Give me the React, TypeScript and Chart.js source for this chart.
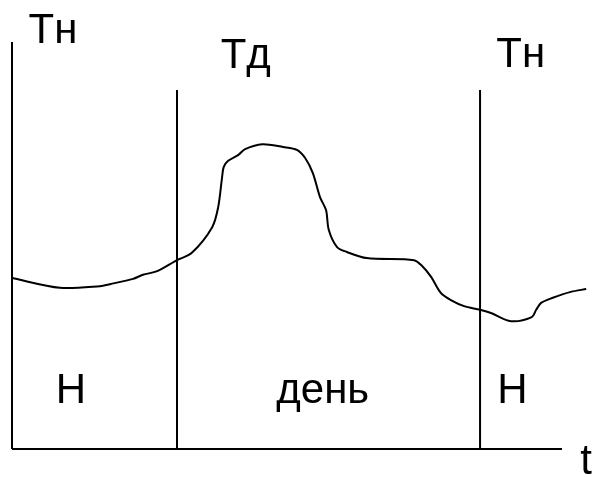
import React, { useEffect, useRef } from "react";
import { Chart, registerables } from "chart.js";

Chart.register(...registerables);

// Temperature curve over time (arbitrary units)
const curveX = [0, 8.7, 16.0, 17.8, 22.0, 23.8, 26.4, 30.0, 32.7, 36.4, 37.5, 38.2, 38.5, 39.3, 41.1, 42.4, 45.5, 49.3, 51.8, 53.3, 54.7, 56.0, 57.1, 57.6, 59.1, 60.9, 64.5, 73.1, 74.4, 76.2, 78.0, 79.8, 82.2, 85.1, 87.1, 90.7, 94.5, 95.3, 96.2, 98.2, 101.6, 104.4];
const curveY = [42.0, 39.6, 40.0, 40.5, 41.8, 42.8, 43.7, 46.4, 48.2, 54.5, 59.5, 66.8, 69.3, 70.8, 72.2, 73.7, 74.9, 74.2, 73.5, 71.5, 67.8, 61.9, 58.7, 53.8, 49.6, 48.4, 46.9, 46.4, 45.2, 42.3, 38.3, 36.6, 35.1, 34.2, 33.4, 31.4, 32.4, 34.2, 35.9, 37.1, 38.6, 39.3];

// Period boundaries
const dayStart = 30;
const dayEnd = 85.1;
const boundaryTop = 88.2;
const axisXEnd = 100;
const axisYEnd = 100;

// Text labels
const labelTexts = ["Тн", "Тд", "Тн", "Н", "день", "Н", "t"];
const labelXs = [7.45, 42.5, 92.5, 10.7, 56.5, 91.0, 104.4];
const labelYs = [99.75, 93.6, 93.9, 11.3, 11.3, 11.3, -6.1];

export default function App() {
  const ref = useRef<HTMLCanvasElement>(null);
  useEffect(() => {
    if (!ref.current) return;
    const black = "#000000";
    const textPlugin = {
      id: "texts",
      afterDraw(chart: any) {
        const ctx = chart.ctx;
        const xs = chart.scales.x;
        const ys = chart.scales.y;
        ctx.save();
        ctx.fillStyle = black;
        ctx.font = "42px 'Liberation Sans', Arial, sans-serif";
        ctx.textAlign = "center";
        ctx.textBaseline = "alphabetic";
        labelTexts.forEach((t, i) => {
          ctx.fillText(t, xs.getPixelForValue(labelXs[i]), ys.getPixelForValue(labelYs[i]));
        });
        ctx.restore();
      },
    };
    const line = (pts: { x: number; y: number }[], tension = 0) => ({
      data: pts,
      borderColor: black,
      borderWidth: 2,
      pointRadius: 0,
      tension,
      fill: false,
      clip: false as any,
    });
    const chart = new Chart(ref.current, {
      type: "line",
      data: {
        datasets: [
          line(curveX.map((x, i) => ({ x, y: curveY[i] })), 0.3),
          line([{ x: 0, y: 0 }, { x: 0, y: axisYEnd }]),
          line([{ x: 0, y: 0 }, { x: axisXEnd, y: 0 }]),
          line([{ x: dayStart, y: 0 }, { x: dayStart, y: boundaryTop }]),
          line([{ x: dayEnd, y: 0 }, { x: dayEnd, y: boundaryTop }]),
        ],
      },
      options: {
        responsive: false,
        animation: false,
        devicePixelRatio: 1,
        layout: { padding: { left: 12, right: 4.5, top: 42, bottom: 28 } },
        plugins: { legend: { display: false }, tooltip: { enabled: false } },
        scales: {
          x: { type: "linear", min: 0, max: 105, display: false },
          y: { type: "linear", min: 0, max: 100, display: false },
        },
      },
      plugins: [textPlugin],
    });
    return () => chart.destroy();
  }, []);
  return (
    <div style={{ position: "fixed", left: 0, top: 0, width: 594, height: 477, background: "#fff" }}>
      <canvas ref={ref} width={594} height={477} />
    </div>
  );
}
